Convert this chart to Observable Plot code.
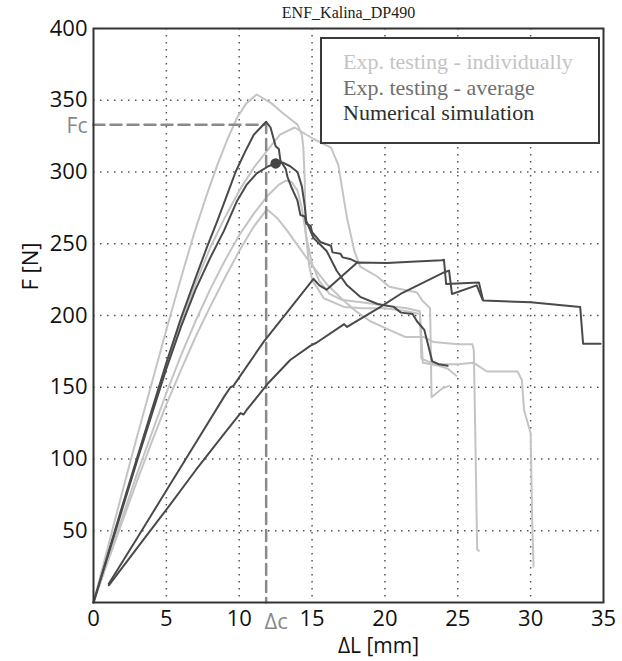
<!DOCTYPE html>
<html><head><meta charset="utf-8">
<script src="https://cdn.jsdelivr.net/npm/d3@7"></script>
<script src="https://cdn.jsdelivr.net/npm/@observablehq/plot@0.6"></script>
<style>
body{margin:0;background:#fff;}
#wrap{position:relative;width:622px;height:661px;}
#legend{position:absolute;left:320px;top:37px;width:255px;height:93px;padding:10px 0 0 21px;box-sizing:content-box;border:2px solid #3a3a3a;background:#fff;font-family:"Liberation Serif",serif;font-size:22px;line-height:25.5px;}
#legend div{white-space:nowrap;}
</style></head>
<body><div id="wrap"><div id="chart"></div><div id="legend"></div></div>
<script>
const title = "ENF_Kalina_DP490";
const xLabel = "ΔL [mm]";
const yLabel = "F [N]";
const xTicks = [0,5,10,15,20,25,30,35];
const yTicks = [50,100,150,200,250,300,350,400];
const gridXv = [5,10,15,20,25,30];
const gridYv = [50,100,150,200,250,300,350];
const seriesNames = ["Exp. testing - individually","Exp. testing - average","Numerical simulation"];
const seriesColors = ["#c4c4c4","#707070","#2e2e2e"];

// experimental, individual specimens
const exp1 = [[0,0],[1,39],[2,78],[3,116],[4,153],[5,190],[6,226],[6.9,257],[7.7,282],[8.5,305],[9.2,323],[9.86,338],[10.5,348],[11.2,354],[12.2,348],[13,341],[14,333],[14.3,326],[14.4,317],[14.5,294],[14.55,259],[14.8,235],[15,225],[15.8,212],[17.2,206],[18.5,205],[20,205],[21.5,203],[22.4,201],[22.5,185],[22.6,167],[23.7,165],[24.3,163],[24.9,158]];
const exp2 = [[0,0],[1,34],[2,68],[3,101],[4,134],[5,165],[6,195],[7,222],[8,247],[9,268],[10,287],[11,303],[12,316],[12.8,326],[13.8,331],[15.1,323],[16.3,317],[16.8,305],[17.2,280],[17.4,268],[17.9,245],[18.3,234],[19.5,227],[20.3,220],[22.2,216],[22.6,210],[23.1,205],[23.2,143],[23.9,149],[24.4,151]];
const exp3 = [[0,0],[1,30],[2,60],[3,90],[4,118],[5,146],[6,172],[7,196],[8,218],[9,238],[10,256],[11,271],[12,284],[12.7,291],[13.2,294],[13.6,293],[14,287],[14.3,275],[14.6,255],[15,236],[15.5,224],[16.2,215],[17,211],[18.5,209],[20,207],[21.5,205],[22.4,203],[22.5,170],[23.4,166],[25,166],[26.1,167],[27,161],[29.1,161],[29.4,155],[29.55,134],[30,118],[30.1,60],[30.2,25]];
const exp4 = [[0,0],[1,29],[2,57],[3,85],[4,112],[5,138],[6,162],[7,185],[8,206],[9,226],[10,245],[11,262],[11.9,274],[12.6,268],[13.3,259],[14,249],[15,235],[16,222],[17,212],[18,203],[19,196],[20.3,190],[21.4,185],[22.7,185],[23.35,181.5],[25,180],[26,180],[26.1,176],[26.2,118],[26.33,37],[26.45,36]];
// dark curves
const curveA = [[0,0],[1,34],[2,68],[3,101],[4,134],[5,167],[6,198],[7,226],[7.8,248],[8.5,266],[9.2,285],[9.75,300],[10.4,314],[11,326],[11.85,335],[12.15,331],[12.5,318],[12.72,316],[12.83,308],[13.2,302],[13.3,297],[13.6,289],[14,280],[14.2,270],[14.5,269],[14.6,264],[14.9,262.5],[15,258],[15.6,251],[16.3,248.6],[16.4,244],[16.95,243],[17.1,240.5],[17.6,239.4],[18.1,237]];
const curveB = [[0,0],[1,33],[2,66],[3,99],[4,131],[5,163],[6,192],[7,218],[8,240],[8.95,259],[9.86,280],[10.5,291],[11.2,299],[12,304],[12.5,306],[13,306.5],[13.5,304],[14,300],[14.3,290],[14.5,276],[14.6,266],[15.1,254],[16,245],[16.7,231],[17.4,221],[18.3,213],[19.5,208],[20.6,206],[21.1,202],[21.9,201],[22.2,196],[22.7,190],[23.25,168],[23.7,166],[24.3,165]];
const curveC = [[1.05,13],[3,45],[5,78],[7,111],[9,144],[9.4,150],[9.6,151],[11.7,182],[13.5,205],[15.1,225.5],[15.5,221],[16,218],[18.1,237],[20.15,236.5],[21.8,237.5],[23.9,238.5],[24.05,238.9],[24.2,222],[26.45,223],[26.74,210.4],[30,209.2],[33.4,206],[33.6,180.3],[34.8,180.3]];
const curveD = [[1.05,12],[3,38],[5.17,67],[7,92],[9,118],[10.09,132],[10.3,131],[10.5,134],[12,153],[13.5,169],[14.9,179],[15.3,181],[17.2,194],[17.4,192],[19.7,206],[21.07,215],[24.05,230],[24.4,231.3],[24.6,215],[26.3,221],[26.7,211]];
const peakDot = [[12.5,306]];
const Fc = 333, dC = 11.85;

const toRows = (arr, id) => arr.map(([x,y]) => ({x, y, id}));
const expRows = [exp1,exp2,exp3,exp4].flatMap((c,i) => toRows(c, "e"+i));
const darkRows = [curveA,curveB,curveC,curveD].flatMap((c,i) => toRows(c, "d"+i));
const dashRows = [{x:0,y:Fc},{x:dC,y:Fc},{x:dC,y:0}];

const font = "'Open Sans', sans-serif";
const chart = Plot.plot({
  width: 622, height: 661,
  marginLeft: 93, marginRight: 19, marginTop: 28, marginBottom: 59,
  x: {domain: [0,35]},
  y: {domain: [0,400]},
  style: {fontFamily: font, background: "#fff"},
  marks: [
    Plot.ruleX(gridXv, {stroke: "#555", strokeWidth: 1.5, strokeDasharray: "1.5,5.5", strokeOpacity: 1}),
    Plot.ruleY(gridYv, {stroke: "#555", strokeWidth: 1.5, strokeDasharray: "1.5,5.5", strokeOpacity: 1}),
    Plot.line(expRows, {x: "x", y: "y", z: "id", stroke: seriesColors[0], strokeWidth: 2}),
    Plot.line(dashRows, {x: "x", y: "y", stroke: "#8a8a8a", strokeWidth: 2.5, strokeDasharray: "11,6"}),
    Plot.line(darkRows, {x: "x", y: "y", z: "id", stroke: "#4a4a4a", strokeWidth: 2}),
    Plot.dot(peakDot, {x: d => d[0], y: d => d[1], r: 4.5, fill: "#444", stroke: "#444"}),
    Plot.frame({stroke: "#333", strokeWidth: 2}),
    Plot.axisX(xTicks, {tickSize: 0, tickPadding: 8, fontSize: 22, fill: "#111", label: null}),
    Plot.axisY(yTicks, {tickSize: 0, tickPadding: 6, fontSize: 22, fill: "#111", label: null}),
    Plot.text(["Fc"], {x: 0, y: Fc, text: d => d, textAnchor: "end", dx: -6, dy: 2, fontSize: 21, fill: "#888"}),
    Plot.text(["Δc"], {x: dC, y: 0, text: d => d, dx: 10, dy: 19, fontSize: 22, fill: "#888"}),
    Plot.text([xLabel], {frameAnchor: "bottom", text: d => d, dx: 30, dy: 50, fontSize: 21, fill: "#111"}),
    Plot.text([yLabel], {frameAnchor: "left", text: d => d, rotate: -90, dx: -63, dy: -25, fontSize: 22, fill: "#111"}),
    Plot.text([title], {frameAnchor: "top", text: d => d, dy: -22, fontSize: 16, fontFamily: "'Liberation Serif', serif", fill: "#222"})
  ]
});
document.getElementById("chart").appendChild(chart);
const leg = document.getElementById("legend");
seriesNames.forEach((n,i) => {
  const d = document.createElement("div");
  d.textContent = n; d.style.color = seriesColors[i];
  leg.appendChild(d);
});
</script></body></html>
